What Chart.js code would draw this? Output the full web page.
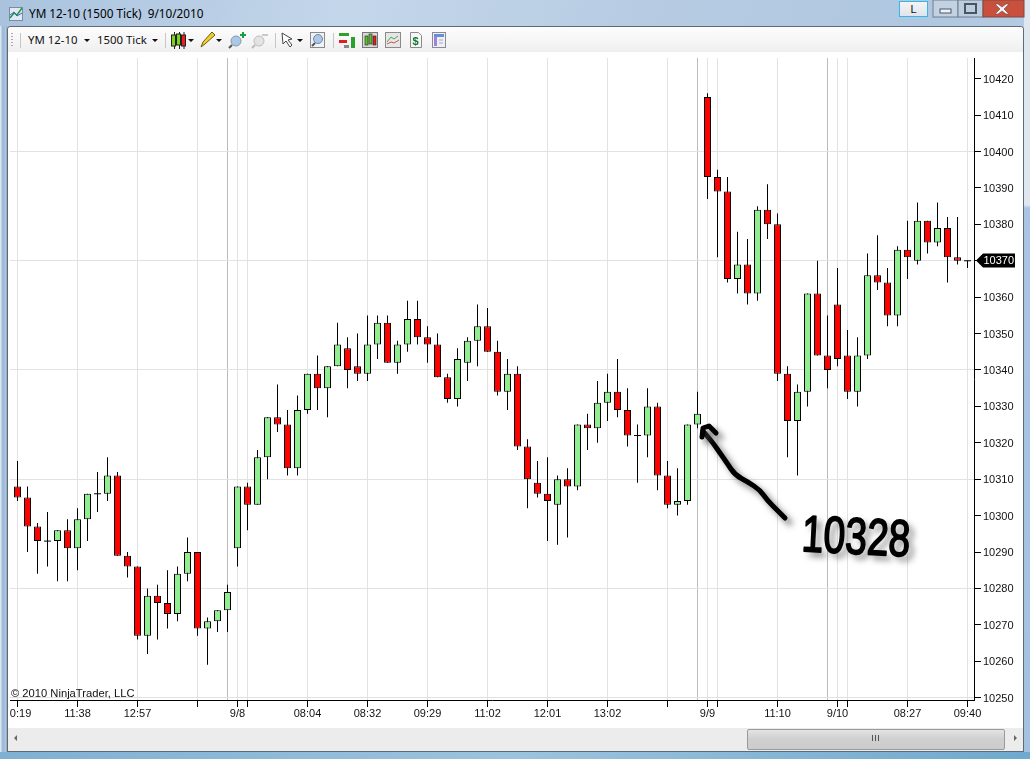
<!DOCTYPE html>
<html><head><meta charset="utf-8">
<style>
html,body{margin:0;padding:0;width:1030px;height:759px;overflow:hidden;background:#a9c4e0;font-family:"Liberation Sans",sans-serif}
.a{position:absolute}
#frame{left:0;top:0;width:1030px;height:759px;background:linear-gradient(100deg,#a9c3de 0%,#c4d6ea 30%,#b7cce3 55%,#afc7e0 80%,#bdd0e5 100%)}
#rstrip{left:1024px;top:0;width:6px;height:759px;background:linear-gradient(180deg,#dfe7f0 0,#dfe7f0 205px,#a9c5e2 208px,#a4c2e0 100%)}
#bstrip{left:0;top:752px;width:1030px;height:7px;background:linear-gradient(90deg,#7fb0d4,#9cc3de 50%,#6fa9cf)}
#lstrip{left:0;top:26px;width:7px;height:726px;background:linear-gradient(90deg,#dbe5ef 0,#dbe5ef 1px,#9fbcdc 2px,#9fbcdc 5px,#c6d6e8 6px,#74818f 7px)}
#panel{left:8px;top:27px;width:1015px;height:724px;background:#fff;box-shadow:0 0 0 1px #5e6a75;border-radius:3px 3px 0 0}
#tb{left:8px;top:27px;width:1015px;height:25px;background:linear-gradient(180deg,#fdfdfd,#efefef);border-radius:3px 3px 0 0}
#sb{left:8px;top:728px;width:1015px;height:23px;background:#ececec}
#thumb{left:747px;top:729px;width:258px;height:21px;border:1px solid #9a9a9a;box-sizing:border-box;border-radius:2px;background:linear-gradient(180deg,#e4e4e4,#d0d0d0 45%,#cccccc)}
#title{left:29px;top:5px;font:11.75px "Noto Sans",sans-serif;color:#000;white-space:pre}
.tt{font:11.4px "Noto Sans",sans-serif;color:#111;top:32px;white-space:pre}
#copy{left:11px;top:687px;font:11.2px "Liberation Sans",sans-serif;color:#111;white-space:pre}
canvas{position:absolute;left:0;top:0;display:block}
#btnL{left:899px;top:1px;width:29px;height:16px;box-sizing:border-box;border:1px solid #38b6e8;outline:0;background:linear-gradient(180deg,#f4f4f4,#dfe5ec);font:11px "Liberation Sans",sans-serif;text-align:center;line-height:14px;color:#111}
</style></head>
<body>
<div class="a" id="frame"></div>
<div class="a" id="rstrip"></div>
<div class="a" id="lstrip"></div>
<div class="a" id="bstrip"></div>
<div class="a" id="panel"></div>
<div class="a" id="tb"></div>
<div class="a" id="sb"></div>
<div class="a" id="thumb"></div>
<div class="a" id="title">YM 12-10 (1500 Tick)  9/10/2010</div>
<div class="a tt" style="left:28px">YM 12-10</div>
<div class="a tt" style="left:97px">1500 Tick</div>
<div class="a" id="btnL">L</div>
<canvas id="c" width="1030" height="759"></canvas>
<div class="a" id="copy">© 2010 NinjaTrader, LLC</div>
<svg class="a" style="left:0;top:0" width="1030" height="759">
  <!-- window controls -->
  <rect x="933" y="0" width="25" height="17" fill="#c3d2e2" stroke="#6f7f90"/>
  <rect x="958" y="0" width="25" height="17" fill="#bccde0" stroke="#6f7f90"/>
  <rect x="983" y="0" width="41" height="17" fill="#c8503c" stroke="#7c4a44"/>
  <rect x="940" y="9" width="11" height="4" fill="#eef2f6" stroke="#4a5563"/>
  <rect x="965" y="4" width="11" height="9" fill="none" stroke="#4a5563" stroke-width="2"/>
  <path d="M998 4l4 3 4-3h3l-5 5 5 5h-3l-4-3-4 3h-3l5-5-5-5z" fill="#f3f3f3" stroke="#6b4a44" stroke-width=".6"/>
  <!-- title icon -->
  <rect x="9.5" y="7.5" width="13" height="13" fill="#dfe8f3" stroke="#7d8aa0"/>
  <path d="M10 18l4-5 3 2 5-7" stroke="#1f9b3d" stroke-width="1.5" fill="none"/>
  <path d="M10 15l4-3 3 4 5-3" stroke="#3a62c0" fill="none"/>
  <!-- toolbar separators and grip -->
  <path d="M12 33v1m0 2v1m0 2v1m0 2v1m0 2v1" stroke="#aaa" stroke-width="2"/>
  <path d="M20.5 33v15M165.5 33v15M275.5 33v15M333.5 33v15" stroke="#c6c6c6"/>
  <!-- dropdown arrows -->
  <path d="M84 39h6l-3 3zM152 39h6l-3 3zM188 39h6l-3 3zM216 39h6l-3 3zM297 39h6l-3 3z" fill="#111"/>
  <!-- candles icon -->
  <g stroke="#222"><path d="M174.5 32v17M179.5 32v17M184 32v17"/><rect x="171.5" y="35" width="4" height="11" fill="#7ed321"/><rect x="176.5" y="34" width="4" height="11" fill="#7ed321"/><rect x="181.5" y="35" width="4" height="11" fill="#e82020"/></g>
  <!-- pencil -->
  <path d="M201 47l2-5 9-10 3 3-10 9z" fill="#f2cf2e" stroke="#6d5a10"/>
  <!-- zoom + / - -->
  <circle cx="236" cy="41" r="5" fill="#a9c8ea" stroke="#8a97a8"/><path d="M232 45l-3 3" stroke="#555" stroke-width="2"/><path d="M243 33h-0M240 35h6M243 32v6" stroke="#18a03c" stroke-width="2"/>
  <circle cx="259" cy="41" r="5" fill="#e3e3e3" stroke="#bcbcbc"/><path d="M255 45l-3 3" stroke="#bbb" stroke-width="2"/><path d="M262 35h6" stroke="#c8c8c8" stroke-width="2"/>
  <!-- cursor -->
  <path d="M282 33l1 11 3-3 4 6 2-2-4-5 4-1z" fill="#fff" stroke="#444"/>
  <!-- magnifier -->
  <rect x="310.5" y="32.5" width="14" height="15" fill="#eef3f8" stroke="#8a8a8a"/><circle cx="318" cy="39" r="4.5" fill="#a9c8ea" stroke="#7a8798"/><path d="M315 43l-3 3" stroke="#555" stroke-width="2"/>
  <!-- other tools -->
  <path d="M339 33h10v3h-10z" fill="#2ba02b"/><path d="M339 40h8v3h-8z" fill="#e02020"/><path d="M351 37h4v11h-4z" fill="#2ba02b"/><path d="M344 45h5v3h-5z" fill="#888"/>
  <rect x="362.5" y="32.5" width="15" height="15" fill="#d8d8d8" stroke="#777"/><rect x="365" y="36" width="3" height="9" fill="#5bc02d" stroke="#222" stroke-width=".6"/><rect x="369" y="34" width="3" height="10" fill="#5bc02d" stroke="#222" stroke-width=".6"/><rect x="373" y="36" width="3" height="9" fill="#e02020" stroke="#222" stroke-width=".6"/>
  <rect x="385.5" y="32.5" width="15" height="15" fill="#e6e6e6" stroke="#8a8a8a"/><path d="M387 42l4-5 3 2 4-3" stroke="#44a858" fill="none"/><path d="M387 44l4-2 3 1 5-3" stroke="#d05050" fill="none"/>
  <path d="M410.5 32.5h8l3 3v12h-11z" fill="#f7f7f7" stroke="#8a8a8a"/><text x="412.5" y="45" font-family="Liberation Sans" font-weight="bold" font-size="11" fill="#117a2c">$</text>
  <rect x="432.5" y="32.5" width="13" height="15" fill="#eef0f6" stroke="#8a8a98"/><rect x="434" y="34" width="3" height="12" fill="#a080e0"/><rect x="434" y="34" width="10" height="3" fill="#6a8fd0"/><path d="M439 40h4M439 43h4" stroke="#aab"/>
  <!-- scrollbar arrows and grip -->
  <path d="M17 735v6l-3-3zM1014 735v6l3-3z" fill="#666"/>
  <path d="M872.5 735v6M875.5 735v6M878.5 735v6" stroke="#555"/>
</svg>
<script src="https://cdn.jsdelivr.net/npm/chart.js@4/dist/chart.umd.min.js"></script>
<script>
const opens=[10308,10305,10297,10293,10293,10296,10291,10299,10306,10306,10311,10289,10286,10267,10278,10276,10273,10284,10290,10269,10271,10274,10291,10308,10303,10316,10327,10325,10313,10329,10339,10335,10341,10346,10341,10339,10347,10353,10342,10347,10354,10349,10347,10338,10332,10342,10348,10352,10345,10334,10339,10319,10309,10306,10303,10310,10308,10325,10324,10331,10334,10329,10322,10322,10330,10311,10303,10304,10325,10415,10393,10389,10365,10369,10361,10384,10380,10339,10326,10334,10361,10344,10358,10344,10334,10344,10366,10364,10355,10373,10370,10381,10375,10379,10371,10370];
const highs=[10315,10308,10298,10301,10296,10299,10302,10306,10312,10316,10312,10290,10286,10280,10281,10285,10286,10294,10290,10272,10274,10281,10308,10309,10318,10327,10336,10329,10333,10339,10344,10341,10353,10349,10350,10355,10355,10355,10348,10359,10359,10352,10350,10339,10346,10349,10358,10357,10348,10343,10341,10321,10315,10316,10311,10313,10325,10328,10337,10339,10343,10335,10325,10335,10331,10315,10313,10325,10334,10416,10395,10393,10378,10376,10385,10391,10383,10341,10336,10361,10370,10355,10368,10351,10349,10372,10377,10368,10374,10381,10386,10381,10386,10382,10382,10370];
const lows=[10304,10290,10284,10286,10282,10282,10285,10293,10301,10304,10289,10283,10266,10262,10266,10269,10271,10282,10267,10259,10268,10268,10286,10296,10303,10310,10323,10311,10311,10328,10329,10327,10341,10335,10337,10337,10343,10342,10339,10345,10347,10342,10338,10331,10330,10337,10341,10345,10333,10329,10318,10302,10305,10293,10292,10294,10307,10318,10320,10326,10327,10319,10309,10316,10307,10302,10300,10303,10324,10387,10371,10364,10361,10358,10359,10376,10337,10316,10311,10330,10344,10335,10341,10332,10330,10343,10362,10352,10352,10365,10369,10372,10374,10364,10369,10368];
const closes=[10305,10297,10293,10293,10296,10291,10299,10306,10306,10311,10289,10286,10267,10278,10276,10273,10284,10290,10269,10271,10274,10279,10308,10303,10316,10327,10325,10313,10329,10339,10335,10341,10347,10340,10339,10347,10353,10342,10347,10354,10349,10347,10338,10332,10343,10348,10352,10345,10334,10339,10319,10310,10306,10304,10310,10308,10325,10324,10331,10334,10329,10322,10322,10330,10311,10303,10304,10325,10328,10393,10389,10365,10369,10361,10384,10380,10339,10326,10334,10361,10344,10340,10343,10334,10344,10366,10364,10355,10373,10371,10381,10375,10379,10371,10370,10370];
const priceTicks=[10250,10260,10270,10280,10290,10300,10310,10320,10330,10340,10350,10360,10370,10380,10390,10400,10410,10420];
const hGridEvery=30;
const timeTickIdx=[0,6,12,18,21,22,23,29,35,41,47,53,59,65,68,69,70,76,81,82,83,89,95];
const timeTickLab=["0:19","11:38","12:57","","","9/8","","08:04","08:32","09:29","11:02","12:01","13:02","","","9/9","","11:10","","9/10","","08:27","09:40"];
const sessionIdx=[21,68,81];
const noteIdx=68;

const n=opens.length, idx=opens.map((_,i)=>i);
const UP='#90ee90', DOWN='#ff0000';
const wicks=idx.map(i=>({x:i,y:[lows[i],highs[i]]}));
const bodies=idx.filter(i=>opens[i]!==closes[i]).map(i=>({x:i,y:[opens[i],closes[i]]}));
const dojis=idx.filter(i=>opens[i]===closes[i]).map(i=>({x:i,y:closes[i]}));

const overlay={id:'overlay',afterDraw(ch){
  const c=ch.ctx,ys=ch.scales.y,last=closes[n-1],py=Math.floor(ys.getPixelForValue(last))+0.5;
  c.save();
  c.fillStyle='#000';c.beginPath();c.moveTo(976,py);c.lineTo(983,py-7);c.lineTo(1015,py-7);c.lineTo(1015,py+7);c.lineTo(983,py+7);c.closePath();c.fill();
  c.fillStyle='#fff';c.font='11px "Liberation Sans"';c.textBaseline='middle';c.textAlign='left';c.fillText(String(last),983.5,py+0.5);
  c.restore();
  // handwritten note
  c.save();
  c.shadowColor='rgba(70,70,70,.7)';c.shadowBlur=6;c.shadowOffsetX=5;c.shadowOffsetY=5;
  c.strokeStyle='#000';c.lineWidth=5;c.lineCap='round';c.lineJoin='round';
  const pts=[[785,518],[777,510],[767,500],[760,490],[748,482],[735,475],[727,463],[720,453],[713,443],[708,437],[703,431]];
  c.beginPath();c.moveTo(pts[0][0],pts[0][1]);
  for(let i=1;i<pts.length-1;i++){c.quadraticCurveTo(pts[i][0],pts[i][1],(pts[i][0]+pts[i+1][0])/2,(pts[i][1]+pts[i+1][1])/2);}
  c.lineTo(pts[pts.length-1][0],pts[pts.length-1][1]);c.stroke();
  c.beginPath();c.moveTo(702,437);c.lineTo(703,428);c.lineTo(709,426);c.lineTo(716,433);c.stroke();
  c.translate(801,551);c.rotate(0.05);c.scale(0.85,1.12);
  c.fillStyle='#000';c.strokeStyle='#000';c.lineWidth=1.6;c.font='46px "Liberation Sans"';c.textBaseline='alphabetic';c.textAlign='left';
  c.fillText(String(closes[noteIdx]),0,0);
  c.shadowColor='transparent';c.strokeText(String(closes[noteIdx]),0,0);
  c.restore();
}};

new Chart(document.getElementById('c'),{
  type:'bar',
  data:{datasets:[
    {data:wicks,backgroundColor:'#000',barThickness:1,grouped:false,order:3,borderWidth:0,inflateAmount:0},
    {data:bodies,backgroundColor:bodies.map(b=>b.y[1]>b.y[0]?UP:DOWN),borderColor:'#000',borderWidth:1,borderSkipped:false,barThickness:7,grouped:false,order:2,inflateAmount:0},
    {type:'scatter',data:dojis,pointStyle:'line',pointRadius:3.5,pointBorderColor:'#000',pointBorderWidth:1,showLine:false,order:1}
  ]},
  options:{
    responsive:false,animation:false,
    layout:{padding:{left:10,top:58,right:6,bottom:29}},
    plugins:{legend:{display:false},tooltip:{enabled:false}},
    scales:{
      x:{type:'linear',offset:false,min:-0.75,max:95.65,
        afterBuildTicks:s=>{s.ticks=timeTickIdx.map(v=>({value:v}));},
        afterFit:s=>{s.height=30;},
        border:{color:'#000',width:1},
        grid:{drawTicks:true,tickLength:7,lineWidth:1,offset:false,
          color:t=>sessionIdx.includes(t.tick.value)?'#bcbcbc':'#e2e2e2',
          tickColor:t=>sessionIdx.includes(t.tick.value)?'rgba(0,0,0,0)':'#000'},
        ticks:{autoSkip:false,maxRotation:0,minRotation:0,padding:0,color:'#111',font:{family:'"Liberation Sans"',size:11},
          callback:v=>{const k=timeTickIdx.indexOf(v);const l=k<0?'':timeTickLab[k];return v===0?'\u00a0\u00a0'+l:l;}}
      },
      y:{type:'linear',position:'right',min:10249.35,max:10425.7,
        afterBuildTicks:s=>{s.ticks=priceTicks.map(v=>({value:v}));},
        afterFit:s=>{s.width=50;},
        border:{color:'#000',width:1},
        grid:{drawTicks:true,tickLength:7,lineWidth:1,
          color:t=>(t.tick.value-priceTicks[0])%hGridEvery===0?'#e2e2e2':'rgba(0,0,0,0)',
          tickColor:'#000'},
        ticks:{autoSkip:false,padding:2,labelOffset:1,color:'#111',font:{family:'"Liberation Sans"',size:11},
          callback:v=>v===closes[n-1]?'':String(v)}
      }
    }
  },
  plugins:[overlay]
});
</script>
</body></html>
